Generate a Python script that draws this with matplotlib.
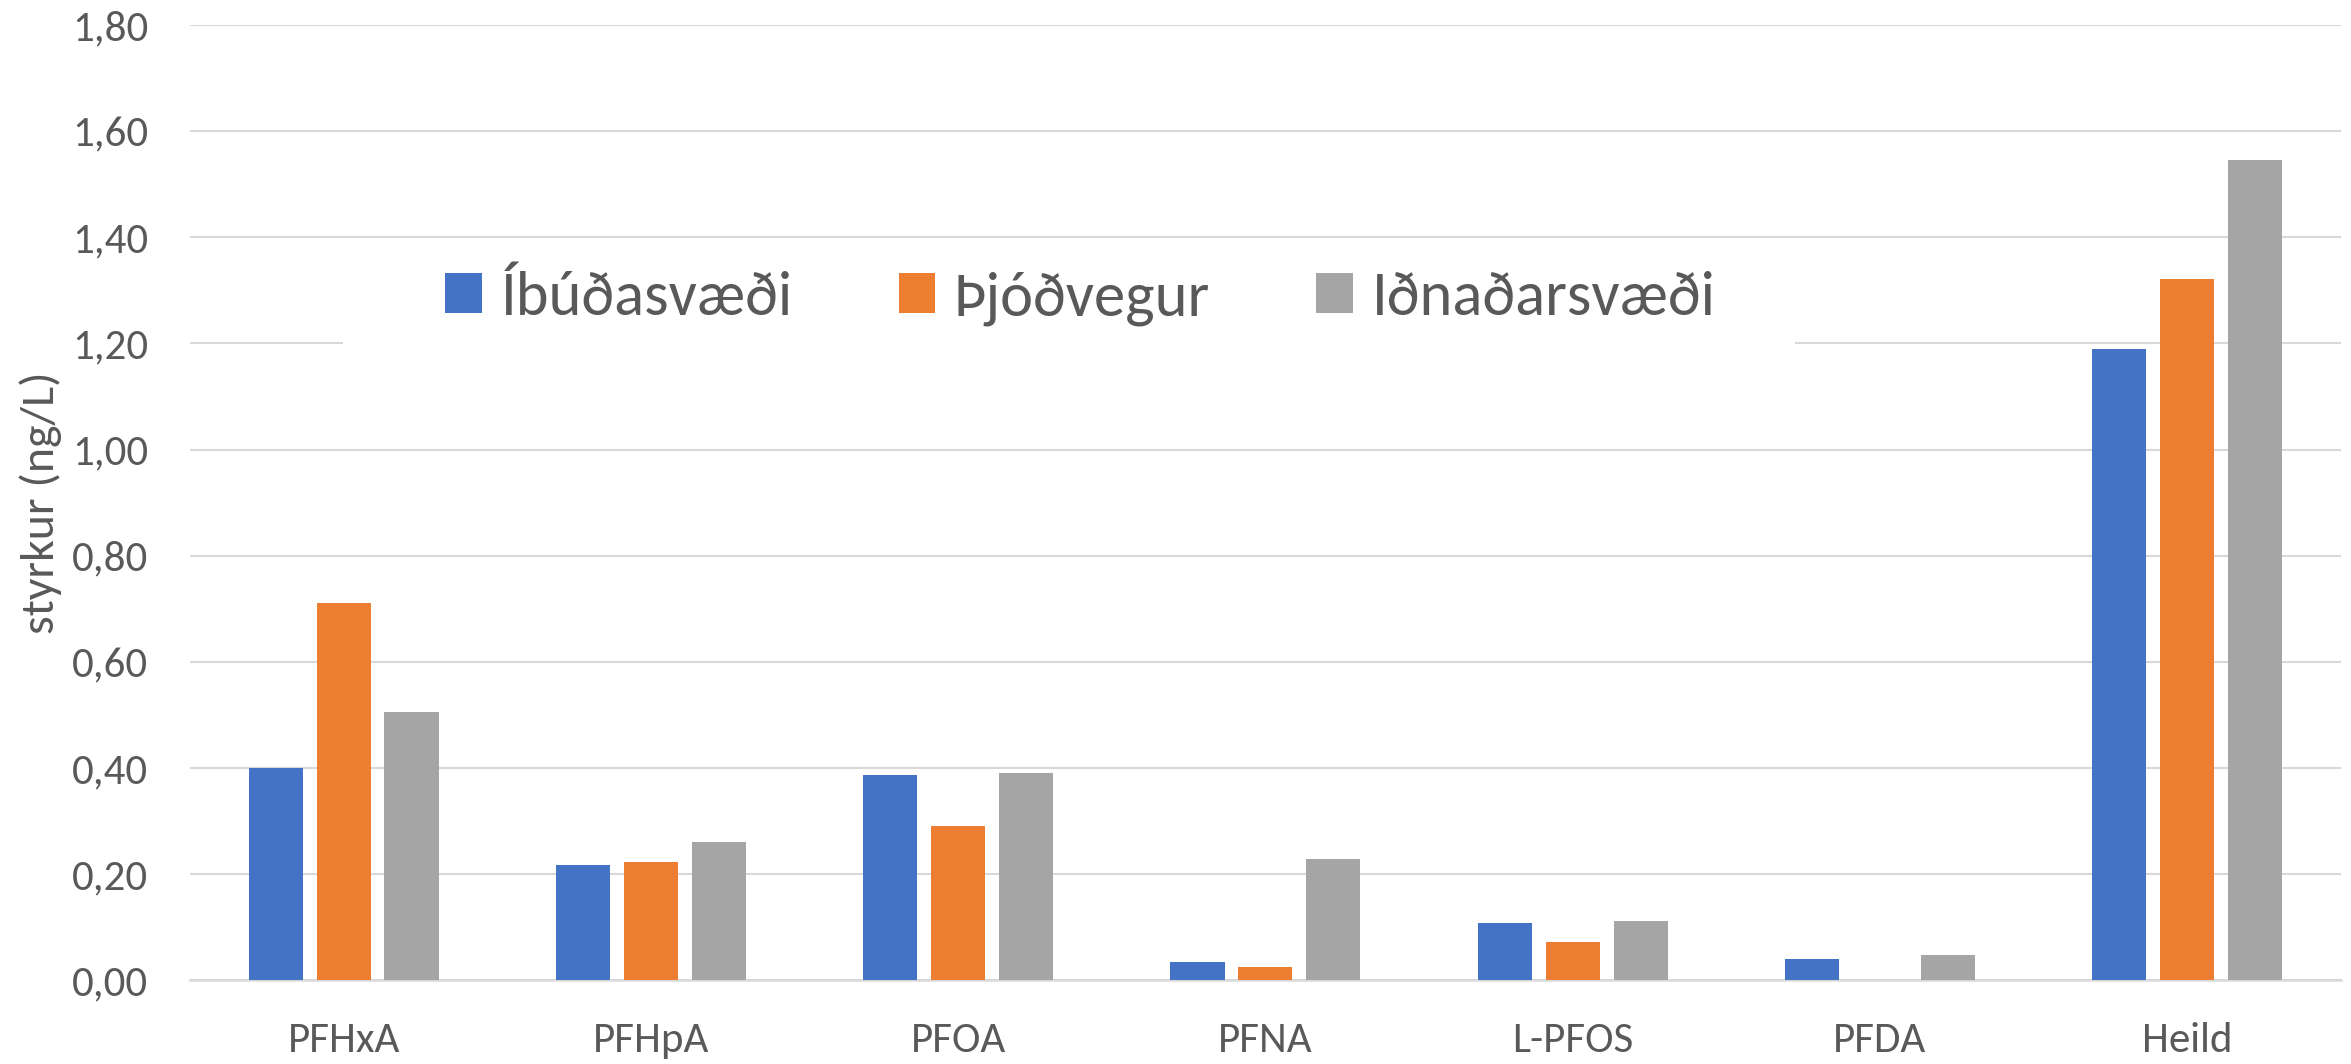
import numpy as np
import matplotlib
matplotlib.use("Agg")
import matplotlib.pyplot as plt
from matplotlib.patches import Rectangle
from matplotlib.ticker import FuncFormatter

# data (ng/L)
categories = ["PFHxA", "PFHpA", "PFOA", "PFNA", "L-PFOS", "PFDA", "Heild"]
series_names = ["Íbúðasvæði", "Þjóðvegur", "Iðnaðarsvæði"]
ibudasvaedi = [0.400, 0.218, 0.388, 0.035, 0.109, 0.040, 1.190]
thjodvegur = [0.711, 0.223, 0.291, 0.026, 0.073, 0.000, 1.322]
idnadarsvaedi = [0.505, 0.260, 0.391, 0.229, 0.112, 0.048, 1.545]
yticks = [0.0, 0.2, 0.4, 0.6, 0.8, 1.0, 1.2, 1.4, 1.6, 1.8]

colors = ["#4472C4", "#ED7D31", "#A5A5A5"]
text_col = "#595959"
grid_col = "#D9D9D9"
font = ["Carlito", "DejaVu Sans"]
plt.rcParams["font.family"] = font

fig = plt.figure(figsize=(23.51, 10.64), dpi=100)
ax = fig.add_axes([0.0808, 0.0785, 0.9149, 0.898])

x = np.arange(len(categories))
width = 0.176
step = 0.221
for i, (vals, name) in enumerate(zip([ibudasvaedi, thjodvegur, idnadarsvaedi], series_names)):
    ax.bar(x + (i - 1) * step, vals, width, color=colors[i], label=name, zorder=3)

ax.set_xlim(-0.5, len(categories) - 0.5)
ax.set_ylim(0, 1.8)
ax.set_yticks(yticks)
ax.yaxis.set_major_formatter(FuncFormatter(lambda v, p: f"{v:.2f}".replace(".", ",")))
ax.set_xticks(x)
ax.set_xticklabels(categories)

ax.grid(axis="y", color=grid_col, linewidth=1.5, zorder=0)
ax.set_axisbelow(True)
for s in ["top", "right", "left"]:
    ax.spines[s].set_visible(False)
ax.spines["bottom"].set_color(grid_col)
ax.spines["bottom"].set_linewidth(1.8)
ax.tick_params(axis="both", length=0, labelsize=31, colors=text_col)
ax.tick_params(axis="x", pad=30)
ax.tick_params(axis="y", pad=30)

ax.set_ylabel("styrkur (ng/L)", fontsize=34.5, color=text_col, va="center")
ax.yaxis.set_label_coords(-0.0693, 0.5)

# white box behind the legend (hides part of the 1,20 gridline like the original)
ax.add_patch(Rectangle((0.0711, 0.655), 0.675, 0.11, transform=ax.transAxes,
                       facecolor="white", edgecolor="none", zorder=2))

leg = ax.legend(loc="center", bbox_to_anchor=(0.414, 0.714), ncol=3,
                frameon=False, prop={"family": font, "size": 45},
                handlelength=0.58, handleheight=0.6, handletextpad=0.3,
                columnspacing=1.7, borderpad=0.2)
for t in leg.get_texts():
    t.set_color(text_col)

fig.savefig("out.png", dpi=100, facecolor="white")
